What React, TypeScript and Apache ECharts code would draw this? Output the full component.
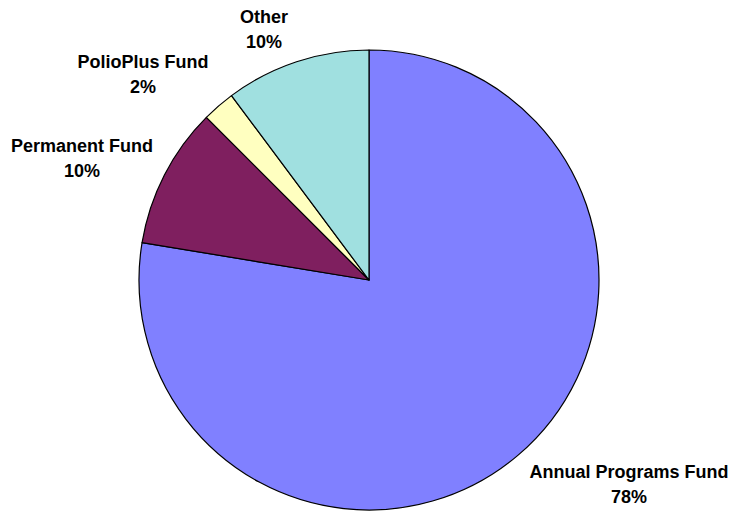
import React, { useEffect, useRef } from "react";
import * as echarts from "echarts";

const categories = ["Annual Programs Fund", "Permanent Fund", "PolioPlus Fund", "Other"];
const values = [77.6, 9.9, 2.3, 10.2];
const colors = ["#8080FF", "#7F1F5F", "#FFFFC0", "#A0E0E0"];
// label block centres (px) in the chart area
const labelCenters = [
  [629, 484],
  [82, 158],
  [143, 74],
  [264, 29],
];

export default function App() {
  const ref = useRef<HTMLDivElement>(null);
  useEffect(() => {
    if (!ref.current) return;
    const chart = echarts.init(ref.current, null, { renderer: "svg" });
    chart.setOption({
      animation: false,
      backgroundColor: "#ffffff",
      series: [
        {
          type: "pie",
          center: [369, 280],
          radius: [0, 230],
          startAngle: 90,
          clockwise: true,
          avoidLabelOverlap: false,
          data: categories.map((c, i) => ({
            name: c,
            value: values[i],
            itemStyle: { color: colors[i] },
          })),
          itemStyle: { borderColor: "#000000", borderWidth: 1.2 },
          label: {
            show: true,
            position: "outside",
            formatter: (p: any) => `${p.name}\n${Math.round(p.percent)}%`,
            fontFamily: "Liberation Sans, Arial, sans-serif",
            fontWeight: "bold",
            fontSize: 18,
            lineHeight: 25,
            color: "#000000",
            align: "center",
          },
          labelLine: { show: false },
          labelLayout: (params: any) => {
            const c = labelCenters[params.dataIndex];
            return {
              x: c[0],
              y: c[1],
              align: "center",
              verticalAlign: "middle",
            };
          },
          emphasis: { disabled: true },
        },
      ],
    });
    return () => chart.dispose();
  }, []);
  return (
    <div
      ref={ref}
      style={{ position: "fixed", left: 0, top: 0, width: 735, height: 512 }}
    />
  );
}
